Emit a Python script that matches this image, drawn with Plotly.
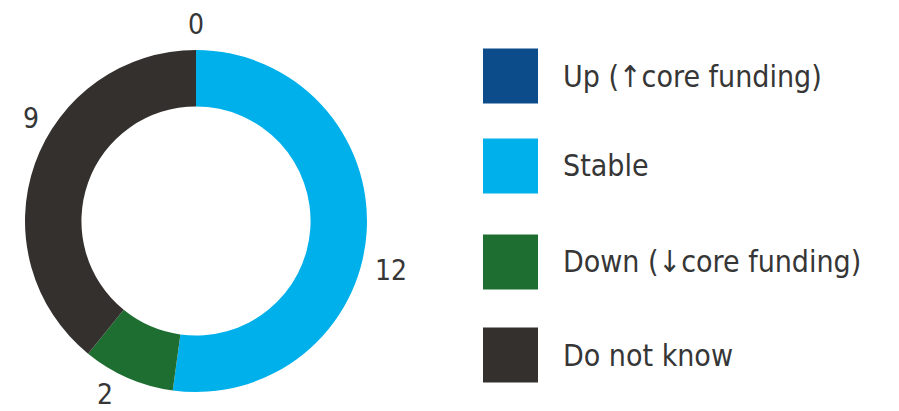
import plotly.graph_objects as go

categories = ["Up (\u2191core funding)", "Stable", "Down (\u2193core funding)", "Do not know"]
values = [0, 12, 2, 9]
colors = ["#0c4c8a", "#00b0ea", "#1e6e32", "#34302e"]

# page offset (body margin) compensation
OFF = 8
W, H = 899 - OFF, 411 - OFF
FONT = "DejaVu Sans Condensed, Liberation Sans Narrow, sans-serif"
TXT = "#363636"


def px(x):
    return (x - OFF) / W


def py(y):
    return 1 - (y - OFF) / H


cx, cy, r = 196, 221, 171

# value label positions (screen pixels) for each slice
label_pos = [(196, 24), (391, 270), (105, 394), (31, 118)]

fig = go.Figure()
fig.add_trace(go.Pie(
    labels=categories,
    values=values,
    marker=dict(colors=colors, line=dict(width=0)),
    hole=0.67,
    sort=False,
    direction="clockwise",
    rotation=0,
    textinfo="none",
    showlegend=False,
    hoverinfo="label+value",
    domain=dict(x=[px(cx - r), px(cx + r)], y=[py(cy + r), py(cy - r)]),
))

shapes = []
annotations = []
for v, (lx, ly_) in zip(values, label_pos):
    annotations.append(dict(xref="paper", yref="paper", x=px(lx), y=py(ly_),
                            xanchor="center", yanchor="middle", showarrow=False,
                            text=str(v), font=dict(family=FONT, size=28, color=TXT)))

# Custom legend with large square swatches
sq = 55
lx0 = 483
ly = [76, 166, 262, 355]
for lab, col, yc in zip(categories, colors, ly):
    shapes.append(dict(type="rect", xref="paper", yref="paper",
                       x0=px(lx0), x1=px(lx0 + sq),
                       y0=py(yc + sq / 2), y1=py(yc - sq / 2),
                       fillcolor=col, line=dict(width=0)))
    annotations.append(dict(xref="paper", yref="paper", x=px(561), y=py(yc),
                            xanchor="left", yanchor="middle", showarrow=False,
                            text=lab, font=dict(family=FONT, size=30, color=TXT)))

fig.update_layout(
    width=W, height=H,
    margin=dict(l=0, r=0, t=0, b=0),
    paper_bgcolor="white", plot_bgcolor="white",
    shapes=shapes, annotations=annotations,
)

fig.write_html("out.html")
